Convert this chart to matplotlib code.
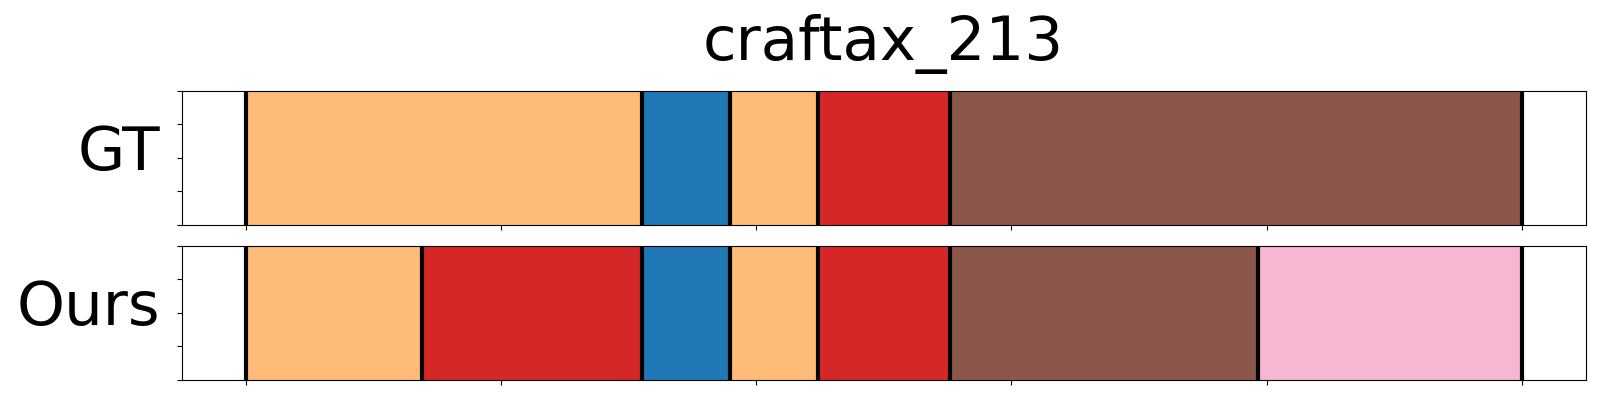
import matplotlib
matplotlib.use('Agg')
import matplotlib.pyplot as plt
import numpy as np

title = 'craftax_213'
n_frames = 290                                          # total length of the sequence

# segment boundaries (frame index) and the colour of each segment
gt_bounds = [0, 90, 110, 130, 160, 290]
gt_colors = ['#ffbb78', '#1f77b4', '#ffbb78', '#d62728', '#8c564b']

ours_bounds = [0, 40, 90, 110, 130, 160, 230, 290]
ours_colors = ['#ffbb78', '#d62728', '#1f77b4', '#ffbb78', '#d62728', '#8c564b', '#f7b6d2']

row_names = ['GT', 'Ours']

fig, axes = plt.subplots(2, 1, figsize=(16, 4), dpi=100, sharex=True)
fig.subplots_adjust(left=0.1136, right=0.991, top=0.773, bottom=0.05, hspace=0.154)

for ax, bounds, colors, name in zip(axes, [gt_bounds, ours_bounds], [gt_colors, ours_colors], row_names):
    for i in range(len(colors)):
        ax.axvspan(bounds[i], bounds[i + 1], color=colors[i])   # one block per segment
    for b in bounds:
        ax.axvline(b, color='k', lw=3)                          # segment boundaries
    ax.set_ylim(0, 1)
    ax.set_xticks(np.linspace(0, n_frames, 6))
    ax.tick_params(labelbottom=False, labelleft=False)
    ax.set_ylabel(name, rotation=0, fontsize=44, ha='right', va='center')
    ax.yaxis.set_label_coords(-0.015, 0.53)

axes[0].set_xlim(-0.05 * n_frames, 1.05 * n_frames)
axes[0].set_title(title, fontsize=44, pad=22)

plt.savefig('out.png')
